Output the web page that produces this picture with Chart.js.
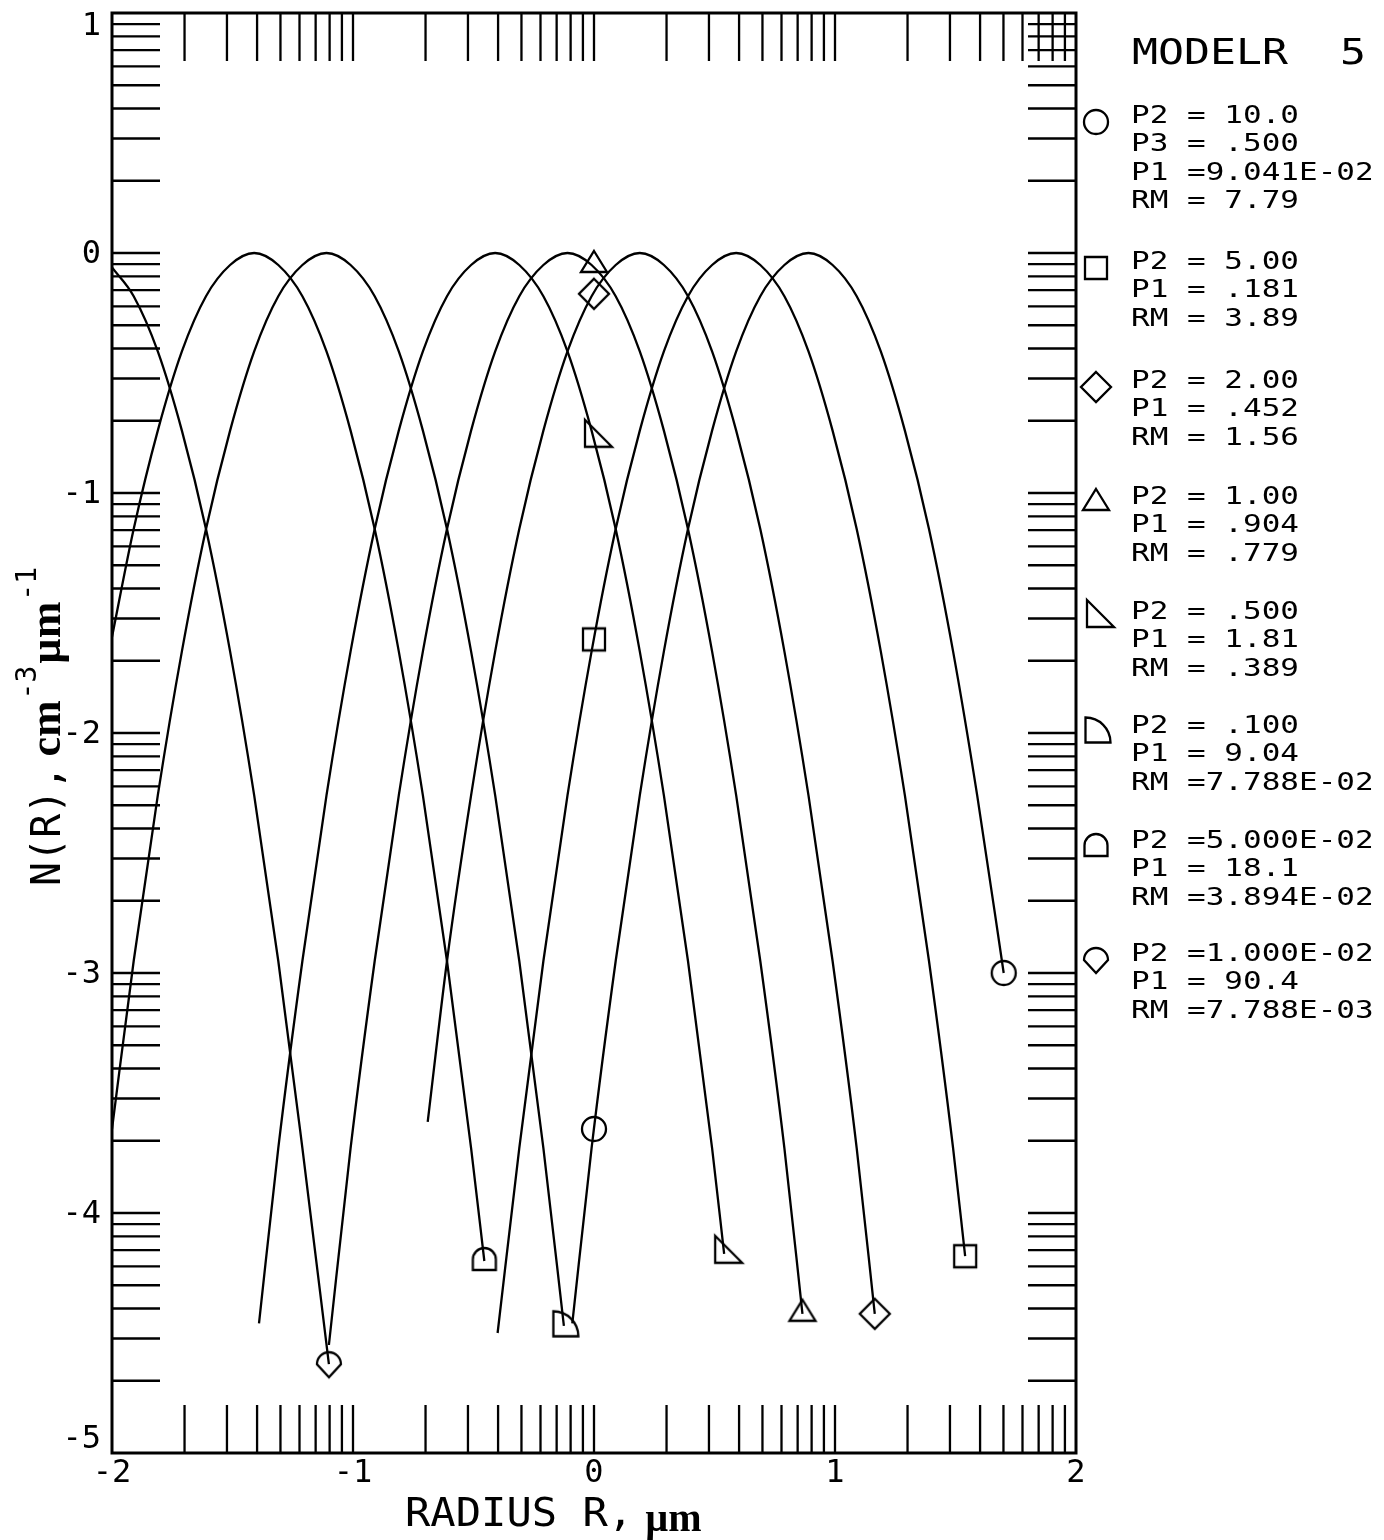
<!DOCTYPE html>
<html><head><meta charset="utf-8">
<script src="https://cdn.jsdelivr.net/npm/chart.js@4.4.0/dist/chart.umd.min.js"></script>
<style>html,body{margin:0;padding:0;background:#fff;}canvas{display:block;}</style>
</head><body>
<canvas id="c" width="1384" height="1540" style="width:1384px;height:1540px"></canvas>
<script>
// ---------- DATA (x = log10 R [um], y = log10 N(R), normalised) ----------
const kiteX = [-2.00, -1.91, -1.81, -1.71, -1.61, -1.51, -1.41, -1.31, -1.21, -1.10];
const kiteY = [-0.06, -0.18, -0.41, -0.74, -1.15, -1.66, -2.26, -2.95, -3.73, -4.63];

const archX = [-2.00, -1.91, -1.81, -1.71, -1.61, -1.51, -1.41, -1.31, -1.21, -1.11, -1.01, -0.91, -0.81, -0.71, -0.61, -0.51, -0.455];
const archY = [-1.60, -1.15, -0.74, -0.41, -0.18, -0.05, 0, -0.05, -0.18, -0.41, -0.74, -1.15, -1.66, -2.26, -2.95, -3.73, -4.20];

const quarterX = [-2.00, -1.91, -1.81, -1.71, -1.61, -1.51, -1.41, -1.31, -1.21, -1.11, -1.01, -0.91, -0.81, -0.71, -0.61, -0.51, -0.41, -0.31, -0.21, -0.125];
const quarterY = [-3.65, -2.95, -2.26, -1.66, -1.15, -0.74, -0.41, -0.18, -0.05, 0, -0.05, -0.18, -0.41, -0.74, -1.15, -1.66, -2.26, -2.95, -3.73, -4.47];

const rtriX = [-1.39, -1.31, -1.21, -1.11, -1.01, -0.91, -0.81, -0.71, -0.61, -0.51, -0.41, -0.31, -0.21, -0.11, -0.01, 0.09, 0.19, 0.29, 0.39, 0.49, 0.54];
const rtriY = [-4.46, -3.73, -2.95, -2.26, -1.66, -1.15, -0.74, -0.41, -0.18, -0.05, 0, -0.05, -0.18, -0.41, -0.74, -1.15, -1.66, -2.26, -2.95, -3.73, -4.17];

const triX = [-1.10, -1.01, -0.91, -0.81, -0.71, -0.61, -0.51, -0.41, -0.31, -0.21, -0.11, -0.01, 0.09, 0.19, 0.29, 0.39, 0.49, 0.59, 0.69, 0.79, 0.865];
const triY = [-4.55, -3.73, -2.95, -2.26, -1.66, -1.15, -0.74, -0.41, -0.18, -0.05, 0, -0.05, -0.18, -0.41, -0.74, -1.15, -1.66, -2.26, -2.95, -3.73, -4.42];

const diaX = [-0.69, -0.61, -0.51, -0.41, -0.31, -0.21, -0.11, -0.01, 0.09, 0.19, 0.29, 0.39, 0.49, 0.59, 0.69, 0.79, 0.89, 0.99, 1.09, 1.165];
const diaY = [-3.62, -2.95, -2.26, -1.66, -1.15, -0.74, -0.41, -0.18, -0.05, 0, -0.05, -0.18, -0.41, -0.74, -1.15, -1.66, -2.26, -2.95, -3.73, -4.42];

const sqX = [-0.40, -0.31, -0.21, -0.11, -0.01, 0.09, 0.19, 0.29, 0.39, 0.49, 0.59, 0.69, 0.79, 0.89, 0.99, 1.09, 1.19, 1.29, 1.39, 1.49, 1.54];
const sqY = [-4.50, -3.73, -2.95, -2.26, -1.66, -1.15, -0.74, -0.41, -0.18, -0.05, 0, -0.05, -0.18, -0.41, -0.74, -1.15, -1.66, -2.26, -2.95, -3.73, -4.18];

const circX = [-0.09, -0.01, 0.09, 0.19, 0.29, 0.39, 0.49, 0.59, 0.69, 0.79, 0.89, 0.99, 1.09, 1.19, 1.29, 1.39, 1.49, 1.59, 1.70];
const circY = [-4.46, -3.73, -2.95, -2.26, -1.66, -1.15, -0.74, -0.41, -0.18, -0.05, 0, -0.05, -0.18, -0.41, -0.74, -1.15, -1.66, -2.26, -3.00];

// marker points
const circMX = [0, 1.70],    circMY = [-3.65, -3.00];
const sqMX = [0, 1.54],      sqMY = [-1.61, -4.18];
const diaMX = [0, 1.165],    diaMY = [-0.17, -4.42];
const triMX = [0, 0.865],    triMY = [-0.05, -4.42];
const rtriMX = [0, 0.54],    rtriMY = [-0.77, -4.17];
const quarterMX = [-0.125],  quarterMY = [-4.47];
const archMX = [-0.455],     archMY = [-4.20];
const kiteMX = [-1.10],      kiteMY = [-4.63];

// axes
const xTickValues = [-2, -1, 0, 1, 2];
const xTickLabels = ['-2', '-1', '0', '1', '2'];
const yTickValues = [1, 0, -1, -2, -3, -4, -5];
const yTickLabels = ['1', '0', '-1', '-2', '-3', '-4', '-5'];
const xDecades = [-2, -1, 0, 1];
const yDecades = [-5, -4, -3, -2, -1, 0];
const minorOffsets = [0, 0.301, 0.477, 0.602, 0.699, 0.778, 0.845, 0.903, 0.954];

// legend
const legendTitle = 'MODELR  5';
const legendMarkers = ['circle', 'square', 'diamond', 'triangle', 'rtri', 'quarter', 'arch', 'kite'];
const legendLines = [
  ['P2 = 10.0', 'P3 = .500', 'P1 =9.041E-02', 'RM = 7.79'],
  ['P2 = 5.00', 'P1 = .181', 'RM = 3.89'],
  ['P2 = 2.00', 'P1 = .452', 'RM = 1.56'],
  ['P2 = 1.00', 'P1 = .904', 'RM = .779'],
  ['P2 = .500', 'P1 = 1.81', 'RM = .389'],
  ['P2 = .100', 'P1 = 9.04', 'RM =7.788E-02'],
  ['P2 =5.000E-02', 'P1 = 18.1', 'RM =3.894E-02'],
  ['P2 =1.000E-02', 'P1 = 90.4', 'RM =7.788E-03']
];
const legendY = [116, 262, 381, 497, 612, 726, 841, 954];

// ---------- STYLE ----------
const PLOT = '"DejaVu Sans Mono","Liberation Mono",monospace';
const SERIF = '"Liberation Serif","DejaVu Serif",serif';
const TICK = 48;

function mk(draw) {
  const c = document.createElement('canvas'); c.width = 44; c.height = 44;
  const g = c.getContext('2d'); g.translate(22, 22);
  g.strokeStyle = '#000'; g.lineWidth = 2.3; g.lineJoin = 'miter';
  g.beginPath(); draw(g); g.stroke(); return c;
}
const MK = {
  circle: mk(g => g.arc(0, 0, 12, 0, 2 * Math.PI)),
  square: mk(g => g.rect(-11, -11, 22, 22)),
  diamond: mk(g => { g.moveTo(0, -15); g.lineTo(15, 0); g.lineTo(0, 15); g.lineTo(-15, 0); g.closePath(); }),
  triangle: mk(g => { g.moveTo(0, -14); g.lineTo(13, 7); g.lineTo(-13, 7); g.closePath(); }),
  rtri: mk(g => { g.moveTo(-9, -18); g.lineTo(18, 9); g.lineTo(-9, 9); g.closePath(); }),
  quarter: mk(g => { g.moveTo(-10.5, 10.5); g.lineTo(-10.5, -14.5); g.arc(-10.5, 10.5, 25, -Math.PI / 2, 0); g.closePath(); }),
  arch: mk(g => { g.moveTo(-11.5, 9); g.lineTo(-11.5, -1.5); g.arc(0, -1.5, 11.5, Math.PI, 0); g.lineTo(11.5, 9); g.closePath(); }),
  kite: mk(g => { g.moveTo(0, 13); g.lineTo(-12, 0); g.arc(0, 0, 12, Math.PI, 0); g.closePath(); })
};

function pts(xs, ys) { return xs.map((x, i) => ({ x: x, y: ys[i] })); }
function curve(xs, ys) {
  return { data: pts(xs, ys), showLine: true, borderColor: '#000', borderWidth: 2.3, pointRadius: 0,
           fill: false, cubicInterpolationMode: 'monotone' };
}
function marks(xs, ys, style) {
  return { data: pts(xs, ys), showLine: false, pointStyle: MK[style], pointRadius: 12, borderColor: '#000',
           backgroundColor: 'rgba(0,0,0,0)' };
}

function txt(ctx, s, x, y, size, sx, align, font, weight) {
  ctx.save();
  ctx.font = (weight || 'normal') + ' ' + size + 'px ' + (font || PLOT);
  ctx.textBaseline = 'middle'; ctx.textAlign = 'left'; ctx.fillStyle = '#000';
  const w = ctx.measureText(s).width * sx;
  let x0 = x;
  if (align === 'center') x0 = x - w / 2; else if (align === 'right') x0 = x - w;
  ctx.translate(x0, y); ctx.scale(sx, 1); ctx.fillText(s, 0, 0);
  ctx.restore();
  return w;
}

const frame = {
  id: 'frame',
  afterDatasetsDraw(chart) {
    const ctx = chart.ctx, a = chart.chartArea, xs = chart.scales.x, ys = chart.scales.y;
    ctx.save();
    ctx.strokeStyle = '#000'; ctx.lineCap = 'butt';
    ctx.lineWidth = 2.3;
    ctx.beginPath();
    xDecades.forEach(d => minorOffsets.forEach(o => {
      const v = d + o; if (v <= xs.min || v >= xs.max) return;
      const p = xs.getPixelForValue(v);
      ctx.moveTo(p, a.bottom); ctx.lineTo(p, a.bottom - TICK);
      ctx.moveTo(p, a.top); ctx.lineTo(p, a.top + TICK);
    }));
    yDecades.forEach(d => minorOffsets.forEach(o => {
      const v = d + o; if (v <= ys.min || v >= ys.max) return;
      const p = ys.getPixelForValue(v);
      ctx.moveTo(a.left, p); ctx.lineTo(a.left + TICK, p);
      ctx.moveTo(a.right, p); ctx.lineTo(a.right - TICK, p);
    }));
    ctx.stroke();
    ctx.lineWidth = 3;
    ctx.strokeRect(a.left, a.top, a.right - a.left, a.bottom - a.top);

    // tick labels
    yTickValues.forEach((v, i) => {
      let p = ys.getPixelForValue(v) + 2;
      p = Math.max(a.top + 14, Math.min(a.bottom - 13, p));
      txt(ctx, yTickLabels[i], 101, p, 32, 1, 'right');
    });
    xTickValues.forEach((v, i) => {
      txt(ctx, xTickLabels[i], xs.getPixelForValue(v), a.bottom + 21, 32, 1, 'center');
    });

    // x title
    let w = txt(ctx, 'RADIUS R,', 405, 1516, 39, 1.08, 'left');
    txt(ctx, 'µm', 405 + w + 12, 1521, 40, 1, 'left', SERIF, 'bold');

    // y title (rotated)
    ctx.save();
    ctx.translate(60, 886); ctx.rotate(-Math.PI / 2);
    ctx.fillStyle = '#000'; ctx.textBaseline = 'alphabetic'; ctx.textAlign = 'left';
    let cx = 0;
    ctx.font = '40px ' + PLOT; ctx.fillText('N(R),', cx, 0); cx += ctx.measureText('N(R),').width + 9;
    ctx.font = 'bold 44px ' + SERIF; ctx.fillText('cm', cx, 0); cx += ctx.measureText('cm').width + 1;
    ctx.font = '28px ' + PLOT; ctx.fillText('-3', cx, -24); cx += ctx.measureText('-3').width + 2;
    ctx.font = 'bold 44px ' + SERIF; ctx.fillText('µm', cx, 0); cx += ctx.measureText('µm').width + 1;
    ctx.font = '28px ' + PLOT; ctx.fillText('-1', cx, -24);
    ctx.restore();

    // legend
    txt(ctx, legendTitle, 1132, 55, 36, 1.2, 'left');
    legendLines.forEach((lines, gi) => {
      const y0 = legendY[gi];
      ctx.drawImage(MK[legendMarkers[gi]], 1096 - 22, y0 + 6 - 22);
      lines.forEach((s, li) => txt(ctx, s, 1131, y0 + li * 28.5, 25, 1.24, 'left'));
    });
    ctx.restore();
  }
};

new Chart(document.getElementById('c').getContext('2d'), {
  type: 'scatter',
  data: {
    datasets: [
      curve(kiteX, kiteY), curve(archX, archY), curve(quarterX, quarterY), curve(rtriX, rtriY),
      curve(triX, triY), curve(diaX, diaY), curve(sqX, sqY), curve(circX, circY),
      marks(circMX, circMY, 'circle'), marks(sqMX, sqMY, 'square'), marks(diaMX, diaMY, 'diamond'),
      marks(triMX, triMY, 'triangle'), marks(rtriMX, rtriMY, 'rtri'), marks(quarterMX, quarterMY, 'quarter'),
      marks(archMX, archMY, 'arch'), marks(kiteMX, kiteMY, 'kite')
    ]
  },
  options: {
    responsive: false, animation: false, devicePixelRatio: 1, events: [],
    layout: { padding: { left: 112, right: 308, top: 10, bottom: 87 } },
    plugins: { legend: { display: false }, tooltip: { enabled: false } },
    scales: {
      x: { type: 'linear', min: -2, max: 2, display: false },
      y: { type: 'linear', min: -5, max: 1, display: false }
    }
  },
  plugins: [frame]
});
</script>
</body></html>
